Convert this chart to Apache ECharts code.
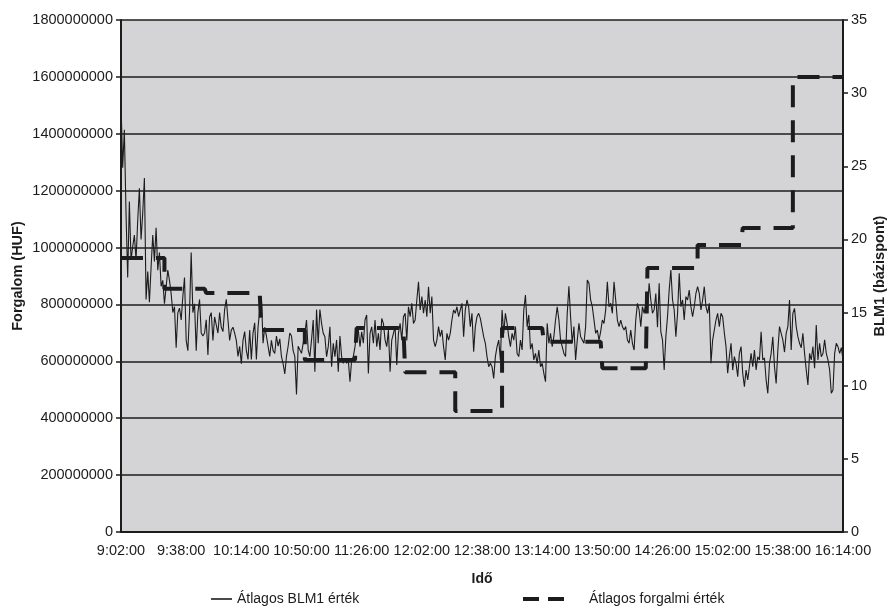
<!DOCTYPE html>
<html><head><meta charset="utf-8">
<script src="https://cdn.jsdelivr.net/npm/echarts@6/dist/echarts.min.js"></script>
<style>html,body{margin:0;padding:0;background:#fff}#c{width:891px;height:607px}</style>
</head><body><div id="c"></div>
<script>
// ---- data ----
const firstHour = 9, firstMinute = 2, minuteCount = 433;
const tickLabels = ['9:02:00','9:38:00','10:14:00','10:50:00','11:26:00','12:02:00','12:38:00','13:14:00','13:50:00','14:26:00','15:02:00','15:38:00','16:14:00'];

// Átlagos BLM1 érték (bázispont), one value per minute from 9:02
const blm1 = [
29.4,24.9,27.5,21.8,17.4,22.6,18.6,19.5,20.3,18.6,
21.3,23.5,20.0,21.8,24.2,15.9,17.8,15.7,18.1,20.3,
18.5,20.8,17.9,19.1,16.8,17.2,15.6,15.7,17.9,17.2,
16.3,15.0,15.4,12.6,15.0,15.3,14.5,16.1,17.4,13.1,
12.4,15.0,19.1,15.0,15.6,12.4,15.0,15.9,13.6,13.4,
13.6,14.5,12.1,14.7,15.0,13.1,14.7,14.8,13.6,15.0,
14.0,13.7,15.2,15.9,14.5,13.1,13.8,14.0,13.6,13.1,
12.0,12.7,11.5,13.1,13.7,12.4,11.8,13.8,11.8,13.6,
14.3,11.8,14.0,15.2,16.1,12.9,14.0,13.4,12.7,12.0,
13.1,12.4,12.2,13.4,12.7,13.2,12.0,11.5,10.8,12.0,
12.7,13.6,13.4,12.4,12.0,9.4,12.7,
12.67,12.21,12.9,13.58,14.49,12.44,11.99,13.13,14.49,10.96,
15.2,12.9,15.2,14.26,13.58,13.35,11.99,12.67,14.03,11.3,
12.9,11.99,13.13,10.96,13.4,11.99,11.53,11.8,11.53,11.76,
10.27,11.76,11.99,12.67,13.58,13.8,12.67,13.69,12.9,14.49,
14.84,10.84,13.58,14.03,12.9,14.49,12.67,13.58,12.44,14.6,
14.26,13.13,12.67,13.8,
10.96,13.12,13.58,14.04,11.42,13.58,14.26,13.12,14.72,14.95,
13.1,15.40,14.72,15.63,14.26,14.49,15.86,17.11,15.18,16.09,
14.95,15.86,14.72,16.77,14.95,16.09,13.12,12.67,13.12,14.04,
13.35,13.81,12.67,11.76,13.58,13.12,13.58,14.49,15.18,14.95,
15.40,14.72,15.18,15.63,13.35,15.18,15.86,15.40,14.04,14.95,
12.33,14.04,14.72,14.95,
14.6,14.72,13.35,12.9,11.99,11.3,11.53,11.3,10.5,11.99,
12.67,13.12,11.76,15.18,13.58,14.95,14.26,13.35,12.67,13.58,
13.12,14.04,12.21,11.99,13.12,12.44,15.18,16.2,14.04,14.84,
12.5,12.9,11.76,12.21,11.53,12.44,11.3,11.53,10.85,10.27,
14.26,12.9,13.58,12.67,13.35,14.49,15.4,14.5,13.12,12.67,
12.21,11.99,14.95,16.8,
14.72,12.9,14.04,11.76,13.12,14.26,13.35,13.35,12.9,14.04,
17.23,17.0,15.86,15.4,14.5,13.58,13.81,13.12,13.7,14.49,
14.26,15.18,17.11,15.4,15.63,14.95,17.11,15.86,14.49,14.04,
14.49,14.04,13.81,14.04,13.12,12.9,13.81,12.9,12.44,14.49,
15.63,15.18,14.04,15.4,14.95,15.63,15.18,17.0,15.86,14.95,
15.2,16.3,14.0,17.0,
13.7,13.12,11.07,13.35,14.72,16.54,17.91,15.86,15.18,13.35,
14.95,17.68,15.4,15.86,14.49,16.09,15.86,16.54,15.4,14.72,
15.4,16.32,16.77,16.32,15.18,15.86,16.77,15.4,14.95,15.63,
11.53,13.12,13.81,14.49,14.95,14.04,14.95,14.72,13.6,12.67,
10.85,11.99,12.9,11.07,11.99,11.53,10.62,12.21,12.67,10.85,
9.93,11.07,10.39,11.3,
12.21,11.3,12.44,11.08,11.98,11.76,13.69,11.76,11.9,10.39,
9.48,11.5,12.21,13.35,11.3,10.16,12.4,14.04,13.58,13.13,
12.3,13.58,14.04,15.86,12.44,14.95,15.29,14.04,13.35,12.9,
12.6,13.58,12.21,11.08,10.05,12.21,11.76,12.67,11.2,14.15,
11.76,12.9,11.98,12.2,13.13,12.21,11.76,11.08,9.48,9.71,
12.21,12.9,12.67,12.21,
12.6,11.8
];

// Átlagos forgalmi érték (HUF): step start minute index and level
const forgalomStepStart = [0,26,51,84,110,141,170,200,228,253,288,315,345,372,402];
const forgalomStepValue = [963e6,855e6,840e6,710e6,605e6,717e6,562e6,425e6,717e6,669e6,576e6,928e6,1009e6,1069e6,1600e6];

// ---- build ----
const categories = [];
for (let i = 0; i < minuteCount; i++) {
  const t = firstHour * 60 + firstMinute + i;
  const h = Math.floor(t / 60), m = t % 60;
  categories.push(h + ':' + String(m).padStart(2, '0') + ':00');
}
const forgalom = categories.map((c, i) => {
  let k = 0;
  for (let j = 0; j < forgalomStepStart.length; j++) if (forgalomStepStart[j] <= i) k = j;
  return forgalomStepValue[k];
});

const FONT = 'Liberation Sans, Arial, Helvetica, sans-serif';
const INK = '#1c1c1c';
const chart = echarts.init(document.getElementById('c'));
chart.setOption({
  animation: false,
  textStyle: { fontFamily: FONT },
  grid: { left: 121, right: 48, top: 20, bottom: 75, show: true, backgroundColor: '#d4d4d6', borderWidth: 0,
    containLabel: false, outerBoundsMode: 'none' },
  xAxis: {
    type: 'category', data: categories, boundaryGap: false,
    axisLine: { lineStyle: { color: INK, width: 2 } },
    axisTick: { show: false },
    axisLabel: { interval: 35, color: INK, fontSize: 14.5, margin: 11, fontFamily: FONT, hideOverlap: false,
      formatter: v => tickLabels.indexOf(v) >= 0 ? v : '' },
    splitLine: { show: false },
    name: 'Idő', nameLocation: 'middle', nameGap: 40, nameMoveOverlap: false,
    nameTextStyle: { fontWeight: 'bold', fontSize: 14, color: INK, fontFamily: FONT }
  },
  yAxis: [{
    type: 'value', min: 0, max: 1800000000, interval: 200000000,
    axisLine: { show: true, lineStyle: { color: INK, width: 2 } },
    axisTick: { show: true, length: 5, lineStyle: { color: INK, width: 1.5 } },
    axisLabel: { color: INK, fontSize: 14.5, margin: 8, fontFamily: FONT, formatter: v => String(v) },
    splitLine: { show: true, lineStyle: { color: INK, width: 1.6 } },
    name: 'Forgalom (HUF)', nameLocation: 'middle', nameGap: 96, nameRotate: 90, nameMoveOverlap: false,
    nameTextStyle: { fontWeight: 'bold', fontSize: 14.5, color: INK, fontFamily: FONT }
  }, {
    type: 'value', min: 0, max: 35, interval: 5, position: 'right',
    axisLine: { show: true, lineStyle: { color: INK, width: 2 } },
    axisTick: { show: true, length: 5, lineStyle: { color: INK, width: 1.5 } },
    axisLabel: { color: INK, fontSize: 14.5, margin: 8, fontFamily: FONT },
    splitLine: { show: false },
    name: 'BLM1 (bázispont)', nameLocation: 'middle', nameGap: 29, nameRotate: 90, nameMoveOverlap: false,
    nameTextStyle: { fontWeight: 'bold', fontSize: 14.5, color: INK, fontFamily: FONT }
  }],
  legend: [{
    data: [{ name: 'Átlagos BLM1 érték', icon: 'rect' }], left: 206, top: 587, itemWidth: 21, itemHeight: 1.6,
    textStyle: { color: INK, fontSize: 14, fontFamily: FONT, padding: [0, 0, 0, 0] }
  }, {
    data: [{ name: 'Átlagos forgalmi érték', icon: 'path://M0,0h16v4h-16z M25,0h16v4h-16z' }],
    left: 518, top: 587, itemWidth: 41, itemHeight: 4,
    textStyle: { color: INK, fontSize: 14, fontFamily: FONT, padding: [0, 0, 0, 20] }
  }],
  series: [{
    name: 'Átlagos BLM1 érték', type: 'line', yAxisIndex: 1, data: blm1,
    symbol: 'none', lineStyle: { color: INK, width: 1.1 }, itemStyle: { color: INK }, z: 3
  }, {
    name: 'Átlagos forgalmi érték', type: 'line', yAxisIndex: 0, data: forgalom, step: 'end',
    symbol: 'none', lineStyle: { color: INK, width: 4, type: [22, 13] }, itemStyle: { color: INK }, z: 4
  }]
});
</script>
</body></html>
